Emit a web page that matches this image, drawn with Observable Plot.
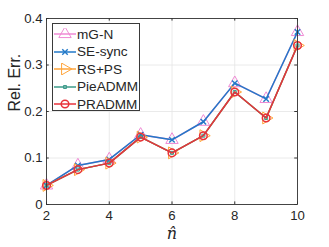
<!DOCTYPE html>
<html>
<head>
<meta charset="utf-8">
<script src="https://cdn.jsdelivr.net/npm/d3@7"></script>
<script src="https://cdn.jsdelivr.net/npm/@observablehq/plot@0.6"></script>
<style>
  html, body { margin: 0; padding: 0; background: #fff; }
  #wrap { position: relative; width: 329px; height: 247px; font-family: "Liberation Sans", Arial, sans-serif; }
  #legend { position: absolute; left: 52px; top: 23px; width: 88px; height: 88px; border: 0.8px solid #3a3a3a; background: #fff; box-sizing: border-box; }
  .row { position: absolute; left: 0; height: 16px; display: flex; align-items: center; font-size: 13.6px; color: #262626; }
  .row svg { margin-left: 1px; margin-right: 1px; }
</style>
</head>
<body>
<div id="wrap"></div>
<script>
const nHat = [2, 3, 4, 5, 6, 7, 8, 9, 10];
const mGN = [0.041, 0.084, 0.097, 0.150, 0.139, 0.178, 0.261, 0.227, 0.371];
const seSync = [0.041, 0.084, 0.097, 0.150, 0.139, 0.178, 0.261, 0.227, 0.371];
const rsps = [0.041, 0.075, 0.089, 0.145, 0.111, 0.148, 0.242, 0.186, 0.342];
const pieADMM = [0.041, 0.075, 0.089, 0.145, 0.111, 0.148, 0.242, 0.186, 0.342];
const pradmm = [0.041, 0.075, 0.089, 0.145, 0.111, 0.148, 0.242, 0.186, 0.342];
const seriesNames = ["mG-N", "SE-sync", "RS+PS", "PieADMM", "PRADMM"];
const xTicks = [2, 4, 6, 8, 10];
const yTicks = [0, 0.1, 0.2, 0.3, 0.4];

const colors = ["#ef8ad4", "#2279c8", "#ffa43a", "#3d9b8a", "#e8323a"];

const triRight = {
  draw(context, size) {
    const r = Math.sqrt(size / 1.3);
    context.moveTo(r, 0);
    context.lineTo(-r / 2, -r * 0.866);
    context.lineTo(-r / 2, r * 0.866);
    context.closePath();
  }
};
const symbols = ["triangle", "times", triRight, "square", "circle"];
const symR = [4.6, 2.6, 4.4, 1.7, 3.8];
const symW = [1, 1.4, 1, 1, 1.5];

const allSeries = [mGN, seSync, rsps, pieADMM, pradmm];
const tables = allSeries.map((vals, i) => nHat.map((n, j) => ({n, v: vals[j], s: seriesNames[i]})));

const seriesMarks = [];
tables.forEach((t, i) => {
  seriesMarks.push(Plot.line(t, {x: "n", y: "v", stroke: colors[i], strokeWidth: 1.5}));
  seriesMarks.push(Plot.dot(t, {x: "n", y: "v", stroke: colors[i], symbol: () => symbols[i], r: symR[i], strokeWidth: symW[i], fill: "none"}));
});

const xt = (xTicks[xTicks.length - 1] - xTicks[0]) * 0.011;
const yt = (yTicks[yTicks.length - 1] - yTicks[0]) * 0.014;

const chart = Plot.plot({
  width: 329,
  height: 247,
  marginLeft: 46,
  marginRight: 32,
  marginTop: 18,
  marginBottom: 43,
  style: {fontFamily: "Liberation Sans, Arial, sans-serif", fontSize: "13.2px", color: "#262626", background: "#fff"},
  x: {domain: [2, 10]},
  y: {domain: [0, 0.4]},
  marks: [
    Plot.ruleX(xTicks, {x: d => d, stroke: "#e4e4e4", strokeWidth: 0.8}),
    Plot.ruleY(yTicks, {y: d => d, stroke: "#e4e4e4", strokeWidth: 0.8}),
    Plot.axisX({ticks: xTicks, tickSize: 0, tickPadding: 6, label: null, fill: "#262626"}),
    Plot.axisY({ticks: yTicks, tickSize: 0, tickPadding: 4, label: null, tickFormat: d => d === 0 ? "0" : String(d), fill: "#262626"}),
    Plot.ruleY(yTicks, {y: d => d, x1: 2, x2: 2 + xt, stroke: "#333"}),
    Plot.ruleY(yTicks, {y: d => d, x1: 10 - xt, x2: 10, stroke: "#333"}),
    Plot.ruleX(xTicks, {x: d => d, y1: 0, y2: yt, stroke: "#333"}),
    Plot.ruleX(xTicks, {x: d => d, y1: 0.4 - yt, y2: 0.4, stroke: "#333"}),
    ...seriesMarks,
    Plot.frame({stroke: "#333", strokeWidth: 0.9}),
    Plot.text(["Rel. Err."], {frameAnchor: "left", lineAnchor: "middle", dx: -32, rotate: -90, fontSize: 16, fill: "#262626", text: d => d}),
    Plot.text(["n\u0302"], {frameAnchor: "bottom", lineAnchor: "middle", dy: 29, fontSize: 16, fontStyle: "italic", fontFamily: "DejaVu Serif, serif", fill: "#262626", text: d => d})
  ]
});

const wrap = document.getElementById("wrap");
wrap.appendChild(chart);

// Legend
const legend = document.createElement("div");
legend.id = "legend";
seriesNames.forEach((name, i) => {
  const row = document.createElement("div");
  row.className = "row";
  row.style.top = (2 + i * 17.5) + "px";
  const svg = d3.create("svg").attr("width", 22).attr("height", 12);
  svg.append("line").attr("x1", 0).attr("x2", 22).attr("y1", 6).attr("y2", 6).attr("stroke", colors[i]).attr("stroke-width", 1.5);
  const sym = typeof symbols[i] === "string"
    ? {triangle: d3.symbolTriangle, times: d3.symbolTimes, square: d3.symbolSquare, circle: d3.symbolCircle}[symbols[i]]
    : symbols[i];
  svg.append("path").attr("transform", "translate(11,6)")
    .attr("d", d3.symbol(sym, Math.PI * symR[i] * symR[i])())
    .attr("fill", "none").attr("stroke", colors[i]).attr("stroke-width", symW[i]);
  row.appendChild(svg.node());
  const span = document.createElement("span");
  span.textContent = name;
  row.appendChild(span);
  legend.appendChild(row);
});
wrap.appendChild(legend);
</script>
</body>
</html>
